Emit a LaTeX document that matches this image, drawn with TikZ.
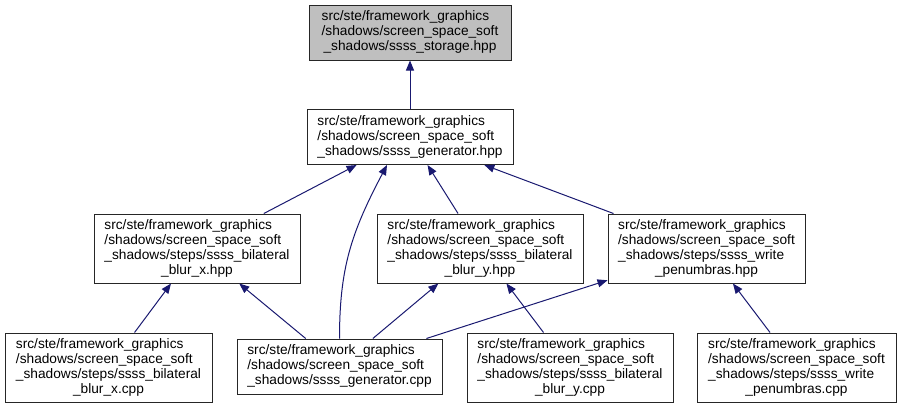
\documentclass[tikz,border=0pt]{standalone}
\usepackage{fontspec}
\setmainfont{Liberation Sans}
\usepackage{tikz}
\usetikzlibrary{arrows.meta, positioning, calc}

\definecolor{depblue}{HTML}{191970}
\definecolor{curgrey}{HTML}{BFBFBF}

% file name split over lines, last line centred
\newcommand{\flines}[2]{\begin{tabular}{@{}l@{}}#1\\\multicolumn{1}{@{}c@{}}{#2}\end{tabular}}

\begin{document}
\begin{tikzpicture}[x=1pt, y=1pt, line width=1pt]
  \tikzstyle{file}=[draw=black!85, inner sep=0pt, font=\fontsize{13.7}{15}\selectfont]
  \tikzstyle{three}=[file, minimum height=55pt]
  \tikzstyle{four}=[file, minimum height=69pt]
  \tikzstyle{dep}=[depblue, -{Triangle[length=10pt, width=8pt]}]

  \useasboundingbox (0,0) rectangle (901,-408);

  % top
  \node[three, fill=curgrey, minimum width=202pt] (storage) at (410,-32.5)
    {\flines{src/ste/framework\_graphics\\/shadows/screen\_space\_soft}{\_shadows/ssss\_storage.hpp}};
  \node[three, minimum width=206pt] (genhpp) at (410,-137)
    {\flines{src/ste/framework\_graphics\\/shadows/screen\_space\_soft}{\_shadows/ssss\_generator.hpp}};

  % steps headers
  \node[four, minimum width=206pt] (blurxhpp) at (197,-248.5)
    {\flines{src/ste/framework\_graphics\\/shadows/screen\_space\_soft\\\_shadows/steps/ssss\_bilateral}{\_blur\_x.hpp}};
  \node[four, minimum width=206pt] (bluryhpp) at (480,-248.5)
    {\flines{src/ste/framework\_graphics\\/shadows/screen\_space\_soft\\\_shadows/steps/ssss\_bilateral}{\_blur\_y.hpp}};
  \node[four, minimum width=197pt] (writehpp) at (706.5,-248.5)
    {\flines{src/ste/framework\_graphics\\/shadows/screen\_space\_soft\\\_shadows/steps/ssss\_write}{\_penumbras.hpp}};

  % sources
  \node[four, minimum width=207pt] (blurxcpp) at (108.5,-367.5)
    {\flines{src/ste/framework\_graphics\\/shadows/screen\_space\_soft\\\_shadows/steps/ssss\_bilateral}{\_blur\_x.cpp}};
  \node[three, minimum width=205pt] (gencpp) at (339.5,-366.5)
    {\flines{src/ste/framework\_graphics\\/shadows/screen\_space\_soft}{\_shadows/ssss\_generator.cpp}};
  \node[four, minimum width=206pt] (blurycpp) at (570,-367.5)
    {\flines{src/ste/framework\_graphics\\/shadows/screen\_space\_soft\\\_shadows/steps/ssss\_bilateral}{\_blur\_y.cpp}};
  \node[four, minimum width=199pt] (writecpp) at (796.5,-367.5)
    {\flines{src/ste/framework\_graphics\\/shadows/screen\_space\_soft\\\_shadows/steps/ssss\_write}{\_penumbras.cpp}};

  % Edges
  \draw[dep] (genhpp) -- (storage);
  \draw[dep] (blurxhpp) -- (genhpp);
  \draw[dep] (bluryhpp) -- (genhpp);
  \draw[dep] (writehpp) -- (genhpp);
  \draw[dep] (gencpp.north) .. controls +(0,70) and +(-36,-68) .. ([xshift=-23pt]genhpp.south);
  \draw[dep] (blurxcpp) -- (blurxhpp);
  \draw[dep] (gencpp) -- (blurxhpp);
  \draw[dep] (gencpp) -- (bluryhpp);
  \draw[dep] (gencpp) -- (writehpp);
  \draw[dep] (blurycpp) -- (bluryhpp);
  \draw[dep] (writecpp) -- (writehpp);
\end{tikzpicture}
\end{document}
